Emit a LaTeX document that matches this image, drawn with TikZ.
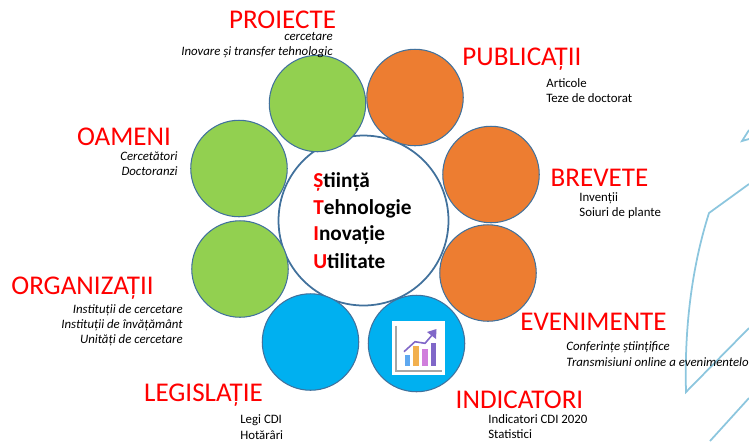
\documentclass[tikz,border=0pt]{standalone}
\usepackage{fontspec}
\setmainfont{Carlito}
\usepackage{tikz}
\usetikzlibrary{positioning}
\definecolor{rim}{HTML}{41719C}
\definecolor{leaf}{HTML}{92D050}
\definecolor{rust}{HTML}{ED7D31}
\definecolor{sky}{HTML}{00B0F0}
\definecolor{wave}{HTML}{8CC6DE}
\definecolor{barblue}{HTML}{5EA8F0}
\definecolor{barorange}{HTML}{F2B04E}
\definecolor{barpink}{HTML}{D07EDC}
\definecolor{barpurple}{HTML}{8067C8}
\tikzset{
	bubble/.style = {circle, draw = rim, line width = 0.6pt, minimum size = 1.93cm, inner sep = 0pt},
	title/.style = {text = red, inner sep = 0pt, font = \fontsize{15.4}{18}\selectfont},
	lefttext/.style = {anchor = west, inner sep = 0pt, font = \fontsize{7.3}{9}\selectfont},
	righttext/.style = {anchor = east, inner sep = 0pt, font = \fontsize{7.3}{9}\selectfont\itshape},
	stiu/.style = {anchor = west, inner sep = 0pt, font = \fontsize{12.1}{14}\selectfont\bfseries}
}
\begin{document}
\begin{tikzpicture}[x = 0.02cm, y = -0.02cm]
	\useasboundingbox (0, 0) rectangle (749, 441);

	% background lines
	\draw[wave, line width = 1pt] (749, 130) -- (742, 141) -- (749, 139);
	\draw[wave, line width = 1pt] (749, 184) -- (709, 213) .. controls (694, 260) and (684, 320) .. (686, 392) -- (749, 328);
	\draw[wave, line width = 1pt] (710, 441) -- (749, 398);

	\node[bubble, line width = 1pt, minimum size = 3.4cm, fill = white] (core) at (363.5, 220.5) {};

	\node[bubble, fill = leaf] (proiecte) at (317.5, 103.5) {};
	\node[bubble, fill = rust] (publicatii) at (415, 97.5) {};
	\node[bubble, fill = rust] (brevete) at (491, 174.5) {};
	\node[bubble, fill = rust] (evenimente) at (488, 273) {};
	\node[bubble, fill = sky] (indicatori) at (416.5, 343.5) {};
	\node[bubble, fill = sky] (legislatie) at (310.5, 342) {};
	\node[bubble, fill = leaf] (organizatii) at (240, 269) {};
	\node[bubble, fill = leaf] (oameni) at (239, 168.5) {};

	% chart on the blue circle
	\fill[white] (392, 321) rectangle (445, 375);
	\draw[black!35, line width = 0.9pt] (396, 325.7) -- (396, 370.7) -- (441.7, 370.7);
	\fill[barblue] (405, 355) rectangle (410, 366);
	\fill[barorange] (413.3, 345.7) rectangle (419, 366);
	\fill[barpink] (421.7, 349.3) rectangle (427.7, 366);
	\fill[barpurple] (430.7, 343.3) rectangle (436, 366);
	\draw[barpurple, line width = 0.9pt] (404, 351.7) -- (415, 341.7) -- (425, 343.3) -- (433, 334);
	\fill[barpurple] (436.5, 329) -- (427, 332) -- (436, 339) -- cycle;

	\node[stiu] (stiinta) at (313, 182) {\textcolor{red}{Ș}tiință};
	\node[stiu] (tehnologie) at (313, 209) {\textcolor{red}{T}ehnologie};
	\node[stiu] (inovatie) at (313, 235) {\textcolor{red}{I}novație};
	\node[stiu] (utilitate) at (313, 261) {\textcolor{red}{U}tilitate};

	\node[title] (t1) at (282.5, 20) {PROIECTE};
	\node[righttext] (a1) at (333, 36) {cercetare};
	\node[righttext] (a2) at (333, 52) {Inovare și transfer tehnologic};

	\node[title] (t2) at (522, 59) {PUBLICAȚII};
	\node[lefttext] (b1) at (546, 83) {Articole};
	\node[lefttext] (b2) at (546, 98) {Teze de doctorat};

	\node[title] (t3) at (599.5, 178) {BREVETE};
	\node[lefttext] (c1) at (579, 198) {Invenții};
	\node[lefttext] (c2) at (579, 213) {Soiuri de plante};

	\node[title] (t4) at (593.5, 322) {EVENIMENTE};
	\node[lefttext, font = \fontsize{7.3}{9}\selectfont\itshape] (d1) at (566, 347) {Conferințe științifice};
	\node[lefttext, font = \fontsize{7.3}{9}\selectfont\itshape] (d2) at (566, 362) {Transmisiuni online a evenimentelo};

	\node[title] (t5) at (519.5, 400) {INDICATORI};
	\node[lefttext] (e1) at (488, 419) {Indicatori CDI 2020};
	\node[lefttext] (e2) at (488, 434) {Statistici};

	\node[title] (t6) at (203.5, 395) {LEGISLAȚIE};
	\node[lefttext] (f1) at (240, 420) {Legi CDI};
	\node[lefttext] (f2) at (240, 435) {Hotărâri};

	\node[title] (t7) at (82.5, 288) {ORGANIZAȚII};
	\node[righttext] (g1) at (183, 310) {Instituții de cercetare};
	\node[righttext] (g2) at (183, 325) {Instituții de învățământ};
	\node[righttext] (g3) at (183, 340) {Unități de cercetare};

	\node[title] (t8) at (124, 137) {OAMENI};
	\node[righttext] (h1) at (178, 156) {Cercetători};
	\node[righttext] (h2) at (178, 171) {Doctoranzi};
\end{tikzpicture}
\end{document}
